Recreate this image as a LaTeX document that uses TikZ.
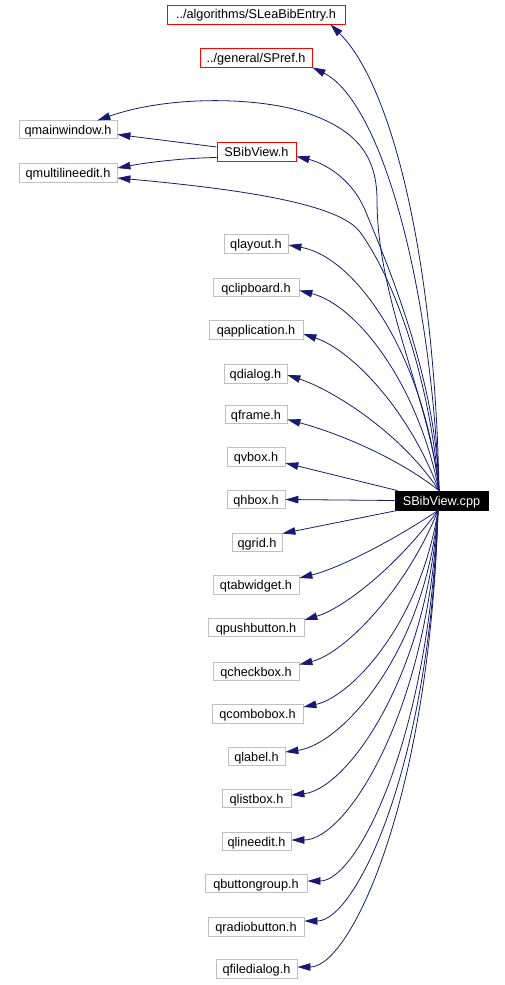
\documentclass[tikz,border=0pt]{standalone}
\usepackage{fontspec}
\setmainfont{Liberation Sans}
\usetikzlibrary{arrows.meta,calc}
\definecolor{edgeblue}{HTML}{191970}
\definecolor{sysgray}{HTML}{BFBFBF}
\newcommand\depedge[6]{\draw[dep] let \p1=(#1), \p2=(#2) in (\p1) .. controls ({\x1-#3pt},{\y1+#4*(\y2-(\y1))}) and ({\x2+#5*(\x1-\x2)},{\y2+#6*(\y1-(\y2))}) .. (\p2);}
\begin{document}
\begin{tikzpicture}[x=1pt,y=1pt,
  box/.style={draw, line width=0.8pt, minimum height=18.5pt, inner sep=0pt, text height=10pt, text depth=1pt, font=\fontsize{12.7}{14}\selectfont, text=black},
  sysbox/.style={box, draw=sysgray},
  projbox/.style={box, draw=red},
  mainbox/.style={box, draw=black, fill=black, text=white},
  dep/.style={draw=edgeblue, line width=0.8pt, -{Triangle[length=13pt,width=7.5pt]}}]
\useasboundingbox (0,0) rectangle (505,-985);
% nodes
\node[projbox, minimum width=178pt, minimum height=19pt] (slea) at (256,-14.5) {../algorithms/SLeaBibEntry.h};
\node[projbox, minimum width=112pt, minimum height=19pt] (spref) at (256,-57.5) {../general/SPref.h};
\node[sysbox, minimum width=98pt, minimum height=17.5pt] (qmw) at (68,-129.5) {qmainwindow.h};
\node[projbox, minimum width=79pt, minimum height=19pt] (sbv) at (256.5,-151.5) {SBibView.h};
\node[sysbox, minimum width=98pt] (mle) at (68,-173) {qmultilineedit.h};
\node[sysbox, minimum width=64pt] (qlayout) at (256,-244) {qlayout.h};
\node[sysbox, minimum width=86pt] (qclipboard) at (256,-287.5) {qclipboard.h};
\node[sysbox, minimum width=94pt] (qapplication) at (256,-330) {qapplication.h};
\node[sysbox, minimum width=63pt] (qdialog) at (255.5,-374) {qdialog.h};
\node[sysbox, minimum width=62pt] (qframe) at (256,-414.5) {qframe.h};
\node[sysbox, minimum width=58pt] (qvbox) at (256,-457) {qvbox.h};
\node[sysbox, minimum width=58pt] (qhbox) at (256,-499.5) {qhbox.h};
\node[mainbox, minimum width=93pt, minimum height=19pt] (cpp) at (441.5,-500.5) {SBibView.cpp};
\node[sysbox, minimum width=50pt] (qgrid) at (257,-542.5) {qgrid.h};
\node[sysbox, minimum width=86pt] (qtabwidget) at (256,-585) {qtabwidget.h};
\node[sysbox, minimum width=96pt] (qpushbutton) at (256,-627.5) {qpushbutton.h};
\node[sysbox, minimum width=86pt] (qcheckbox) at (256,-671.5) {qcheckbox.h};
\node[sysbox, minimum width=91pt] (qcombobox) at (257.5,-714) {qcombobox.h};
\node[sysbox, minimum width=57pt] (qlabel) at (256.5,-756.5) {qlabel.h};
\node[sysbox, minimum width=69pt] (qlistbox) at (256.5,-798.5) {qlistbox.h};
\node[sysbox, minimum width=69pt] (qlineedit) at (256.5,-841.5) {qlineedit.h};
\node[sysbox, minimum width=102pt] (qbuttongroup) at (256,-883.5) {qbuttongroup.h};
\node[sysbox, minimum width=96pt] (qradiobutton) at (256,-927) {qradiobutton.h};
\node[sysbox, minimum width=81pt] (qfiledialog) at (256.5,-969) {qfiledialog.h};
% upper edges
\draw[dep] ([xshift=-2.5pt]cpp.north) .. controls (435,-260) and (392,-85) .. ([xshift=-15pt]slea.south east);
\draw[dep] ([xshift=-2.5pt]cpp.north) .. controls (430,-270) and (378,-100) .. (spref.south east);
\draw[dep] ([xshift=-2.5pt]cpp.north) .. controls (430,-400) and (377,-300) .. (377,-200) .. controls (377,-150) and (350,-128) .. (307,-113) .. controls (260,-97) and (170,-95) .. ([xshift=-20pt]qmw.north east);
\draw[dep] ([xshift=-2.5pt]cpp.north) .. controls (436,-380) and (390,-270) .. (365,-210) .. controls (350,-175) and (320,-162) .. ([yshift=-5pt]sbv.east);
\draw[dep] ([xshift=-2.5pt]cpp.north) .. controls (430,-380) and (395,-280) .. (360,-232) .. controls (340,-205) and (250,-190) .. ([yshift=-5pt]mle.east);
\draw[dep] ([yshift=4.5pt]sbv.west) -- ([yshift=-5pt]qmw.east);
\draw[dep] ([yshift=-6pt]sbv.west) .. controls (185,-158) and (150,-162) .. ([yshift=5pt]mle.east);
\depedge{[xshift=-2.5pt]cpp.north}{[yshift=-1pt]qlayout.east}{15}{0.55}{0.45}{0.05}
\depedge{[xshift=-2.5pt]cpp.north}{[yshift=-3pt]qclipboard.east}{22}{0.55}{0.4}{0.07}
\depedge{[xshift=-2.5pt]cpp.north}{[yshift=-4pt]qapplication.east}{30}{0.52}{0.35}{0.1}
\depedge{[xshift=-2.5pt]cpp.north}{[yshift=-1pt]qdialog.east}{38}{0.5}{0.3}{0.13}
\depedge{[xshift=-2.5pt]cpp.north}{[yshift=-5pt]qframe.east}{45}{0.5}{0.3}{0.17}
\draw[dep] ([xshift=3pt]cpp.north west) -- ([yshift=-6pt]qvbox.east);
\draw[dep] (cpp.west) -- (qhbox.east);
\draw[dep] ([xshift=3pt]cpp.south west) -- ([yshift=9pt]qgrid.east);
% lower edges
\depedge{[xshift=-3.5pt]cpp.south}{[yshift=7pt]qtabwidget.east}{40}{0.4}{0.3}{0.15}
\depedge{[xshift=-3.5pt]cpp.south}{[yshift=7.5pt]qpushbutton.east}{40}{0.5}{0.3}{0.11}
\depedge{[xshift=-3.5pt]cpp.south}{[yshift=7pt]qcheckbox.east}{32}{0.52}{0.32}{0.07}
\depedge{[xshift=-3.5pt]cpp.south}{[yshift=7pt]qcombobox.east}{18}{0.58}{0.35}{0.05}
\depedge{[xshift=-3.5pt]cpp.south}{[yshift=4.5pt]qlabel.east}{14}{0.6}{0.36}{0.03}
\depedge{[xshift=-3.5pt]cpp.south}{[yshift=3.5pt]qlistbox.east}{12}{0.6}{0.37}{0.02}
\depedge{[xshift=-3.5pt]cpp.south}{[yshift=1.5pt]qlineedit.east}{10}{0.62}{0.37}{0}
\depedge{[xshift=-3.5pt]cpp.south}{[yshift=2.5pt]qbuttongroup.east}{9}{0.62}{0.38}{0}
\depedge{[xshift=-3.5pt]cpp.south}{[yshift=6pt]qradiobutton.east}{8}{0.63}{0.38}{0}
\depedge{[xshift=-3.5pt]cpp.south}{[yshift=2pt]qfiledialog.east}{8}{0.63}{0.38}{0}
\end{tikzpicture}
\end{document}
